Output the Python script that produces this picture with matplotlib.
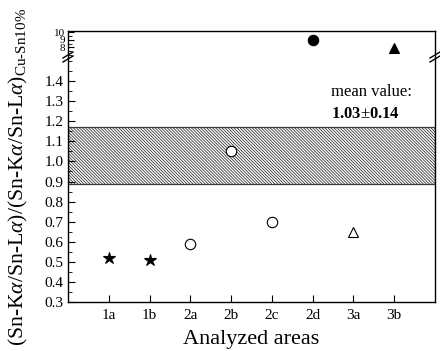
import matplotlib
matplotlib.use("Agg")
import matplotlib.pyplot as plt
from matplotlib.ticker import MultipleLocator, FixedLocator

plt.rcParams['font.family'] = ['Liberation Serif', 'DejaVu Serif']
plt.rcParams['mathtext.fontset'] = 'custom'
plt.rcParams['mathtext.rm'] = 'Liberation Serif'
plt.rcParams['mathtext.it'] = 'Liberation Serif:italic'
plt.rcParams['mathtext.bf'] = 'Liberation Serif:bold'
plt.rcParams['hatch.linewidth'] = 0.6

# Data
areas = ['1a', '1b', '2a', '2b', '2c', '2d', '3a', '3b']
values = [0.52, 0.51, 0.59, 1.05, 0.70, 9.0, 0.65, 7.9]
marker_kind = ['*', '*', 'o', 'o', 'o', 'o', '^', '^']
marker_filled = [True, True, False, False, False, True, False, True]
mean_value = 1.03
mean_sd = 0.14

W, H = 440, 351
fig = plt.figure(figsize=(W / 100, H / 100), dpi=100)

left = 68 / W
right = 435 / W
y_top = 1 - 31 / H
y_break = 1 - 58 / H
y_bot = 1 - 302 / H

ax_top = fig.add_axes([left, y_break, right - left, y_top - y_break])
ax = fig.add_axes([left, y_bot, right - left, y_break - y_bot])

x = list(range(1, len(areas) + 1))

for a in (ax_top, ax):
    a.axhspan(mean_value - mean_sd, mean_value + mean_sd, facecolor='white',
              edgecolor='#3a3a3a', hatch='\\' * 11, linewidth=0.9, zorder=1)
    for xi, v, m, f in zip(x, values, marker_kind, marker_filled):
        size = 9 if m == '*' else 7.5
        a.plot([xi], [v], marker=m, markersize=size, linestyle='none',
               markerfacecolor='black' if f else 'white',
               markeredgecolor='black', markeredgewidth=0.8, zorder=3)
    a.set_xlim(0, 9)
    for s in a.spines.values():
        s.set_linewidth(1.0)
    a.tick_params(direction='in', which='both', right=False, top=False)

# upper segment
ax_top.set_ylim(6.6, 10.15)
ax_top.spines['bottom'].set_visible(False)
ax_top.yaxis.set_major_locator(FixedLocator([8, 9, 10]))
ax_top.yaxis.set_minor_locator(MultipleLocator(0.5))
ax_top.tick_params(axis='y', which='major', length=4, labelsize=8, pad=2)
ax_top.tick_params(axis='y', which='minor', length=3)
ax_top.set_xticks([])

# lower segment
ax.set_ylim(0.3, 1.515)
ax.spines['top'].set_visible(False)
ax.yaxis.set_major_locator(FixedLocator([0.3 + 0.1 * i for i in range(12)]))
ax.yaxis.set_minor_locator(MultipleLocator(0.05))
ax.yaxis.set_major_formatter(plt.FuncFormatter(lambda v, p: f'{v:.1f}'))
ax.tick_params(axis='y', which='major', length=5, labelsize=11, pad=3)
ax.tick_params(axis='y', which='minor', length=3)
ax.set_xticks(x)
ax.set_xticklabels(areas)
ax.tick_params(axis='x', which='major', length=5, labelsize=11, pad=5)
ax.set_xlabel('Analyzed areas', fontsize=16, labelpad=6)

# break marks on both spines
for xf in (0.0, 1.0):
    for dy in (-4, 0):
        y0 = 1 - (59 + dy) / H
        xc = left + xf * (right - left)
        fig.add_artist(plt.Line2D([xc - 5 / W, xc + 5 / W],
                                  [y0 - 3 / H, y0 + 3 / H],
                                  color='black', linewidth=1.0))

fig.text(331 / W, 1 - 92 / H, 'mean value:', fontsize=12, va='center', ha='left')
fig.text(331 / W, 1 - 114 / H, r'1.03$\pm$0.14', fontsize=12, fontweight='bold',
         va='center', ha='left')

fig.text(18 / W, 0.495,
         r'(Sn-K$\alpha$/Sn-L$\alpha$)/(Sn-K$\alpha$/Sn-L$\alpha$)$_{\mathrm{Cu\text{-}Sn10\%}}$',
         rotation=90, fontsize=15.6, ha='center', va='center')

fig.savefig('out.png', dpi=100)
